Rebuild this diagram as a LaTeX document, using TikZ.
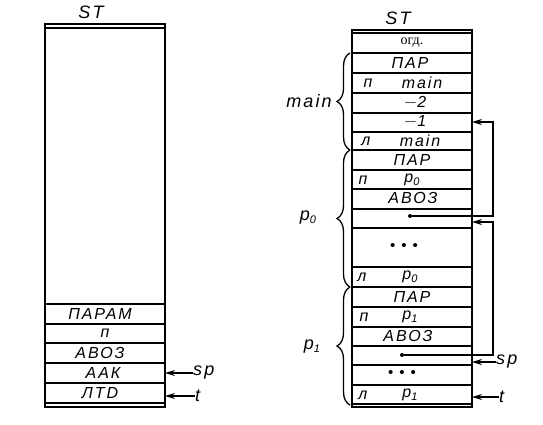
\documentclass[tikz,border=0pt]{standalone}
\usepackage{fontspec}
\setmainfont{Liberation Sans}[LetterSpace=12]
\newfontfamily\serf{Liberation Serif}
\usetikzlibrary{decorations.pathreplacing,arrows.meta}
\newcommand\mysub[1]{\raisebox{-3pt}{\fontsize{11}{11}\selectfont #1}}
\begin{document}
\begin{tikzpicture}[x=1pt,y=-1pt,
  lbl/.style={font=\fontsize{16}{18}\selectfont\itshape, inner sep=0pt},
  big/.style={font=\fontsize{18}{20}\selectfont\itshape, inner sep=0pt},
  frame/.style={line width=1.8pt},
  row/.style={line width=1.3pt},
  ptr/.style={line width=1.3pt, -{Stealth[length=10pt,width=6pt]}},
  brc/.style={decorate, decoration={brace, amplitude=13pt}, line width=1.3pt},
  dotn/.style={circle, fill, inner sep=0pt, minimum size=4pt}]
\useasboundingbox (0,0) rectangle (543,424);
% ---------- left stack ----------
\node[big] (stL) at (91,12) {ST};
\draw[frame] (45,24) rectangle (165,407);
\foreach \y in {28,304,324,343,363,383,403} \draw[row] (45,\y) -- (165,\y);
\node[lbl] (lparam) at (100,314) {ПАРАМ};
\node[lbl] (lp) at (105,333) {п};
\node[lbl] (lavoz) at (100,353) {АВОЗ};
\node[lbl] (laak) at (103,373) {ААК};
\node[lbl] (lltd) at (100,393) {ЛТD};
\coordinate (laakE) at (165,373);
\coordinate (lltdE) at (165,396);
\node[big, anchor=west] (spL) at (193,373) {sp};
\node[big, anchor=west] (tL) at (195,396) {t};
\draw[ptr] (spL.west) -- (laakE);
\draw[ptr] (tL.west) -- (lltdE);
% ---------- right stack ----------
\node[big] (stR) at (398,18) {ST};
\draw[frame] (352,30) rectangle (472,407);
\foreach \y in {33,53,73,93,113,132,150,170,189,209,228,267,287,307,327,346,365,385,404}
  \draw[row] (352,\y) -- (472,\y);
\node[font=\serf\fontsize{14}{16}\selectfont, inner sep=0pt] (ogd) at (412,43) {огд.};
% main
\node[lbl] (mpar) at (410,63) {ПАР};
\node[lbl] (mn) at (368,83) {п};
\node[lbl] (mnm) at (422,83) {main};
\node[lbl] (m2) at (415,103) {$-$2};
\node[lbl] (m1) at (415,122) {$-$1};
\node[lbl] (ml) at (366,141) {л};
\node[lbl] (mlm) at (420,141) {main};
% p0
\node[lbl] (apar) at (412,160) {ПАР};
\node[lbl] (an) at (363,180) {п};
\node[lbl] (anp) at (412,180) {p\mysub{0}};
\node[lbl] (aavoz) at (413,198) {АВОЗ};
\node[dotn] (d0) at (410,216) {};
\node[font=\fontsize{15}{17}\selectfont, inner sep=0pt] (adots) at (404,247) {• • •};
\node[lbl] (al) at (362,277) {л};
\node[lbl] (alp) at (410,277) {p\mysub{0}};
% p1
\node[lbl] (bpar) at (412,297) {ПАР};
\node[lbl] (bn) at (364,317) {п};
\node[lbl] (bnp) at (410,317) {p\mysub{1}};
\node[lbl] (bavoz) at (408,336) {АВОЗ};
\node[dotn] (d1) at (402,355) {};
\node[font=\fontsize{15}{17}\selectfont, inner sep=0pt] (bdots) at (402,374) {• • •};
\node[lbl] (bl) at (363,395) {л};
\node[lbl] (blp) at (410,395) {p\mysub{1}};
% braces
\draw[brc] (350,150) -- (350,53);
\draw[brc] (350,287) -- (350,150);
\draw[brc] (350,405) -- (350,287);
\node[big] (lmain) at (309,101) {main};
\node[big] (lp0) at (308,218) {p\mysub{0}};
\node[big] (lp1) at (312,347) {p\mysub{1}};
% pointers
\coordinate (m1E) at (472,122);
\coordinate (r0E) at (472,222);
\draw[ptr] (d0) -- (493,216) |- (m1E);
\draw[ptr] (d1) -- (493,355) |- (r0E);
\coordinate (spE) at (472,362);
\coordinate (tE) at (472,397);
\node[big, anchor=west] (spR) at (496,362) {sp};
\node[big, anchor=west] (tR) at (499,397) {t};
\draw[ptr] (spR.west) -- (spE);
\draw[ptr] (tR.west) -- (tE);
\end{tikzpicture}
\end{document}
